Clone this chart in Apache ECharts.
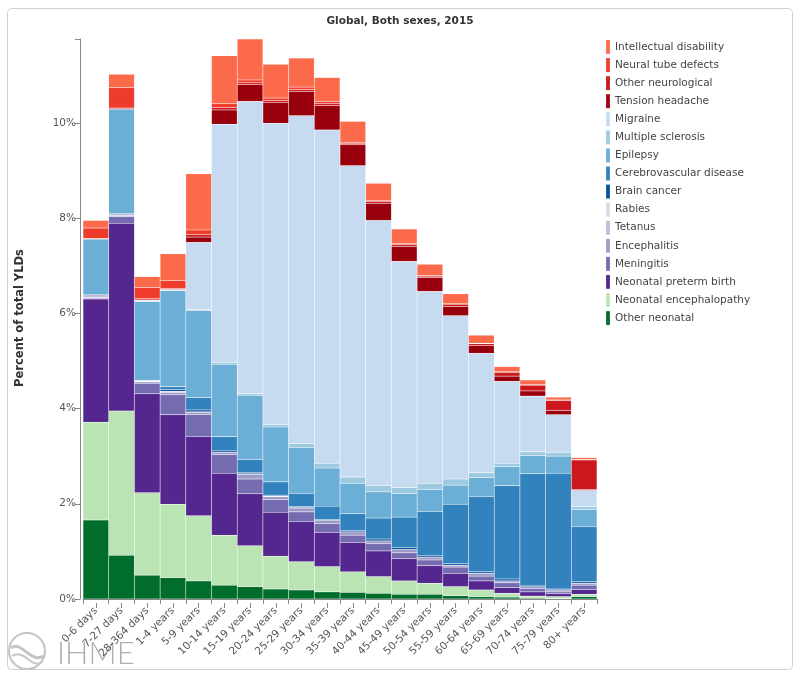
<!DOCTYPE html>
<html>
<head>
<meta charset="utf-8">
<script src="https://cdn.jsdelivr.net/npm/echarts@6/dist/echarts.min.js"></script>
<style>html,body{margin:0;padding:0;background:#fff}#c{width:800px;height:679px}</style>
</head>
<body>
<div id="c"></div>
<script>
const categories = ['0-6 days','7-27 days','28-364 days','1-4 years','5-9 years','10-14 years','15-19 years','20-24 years','25-29 years','30-34 years','35-39 years','40-44 years','45-49 years','50-54 years','55-59 years','60-64 years','65-69 years','70-74 years','75-79 years','80+ years'];
const yTicks = [0, 2, 4, 6, 8, 10];

// Percent of total YLDs, stacked bottom to top
const otherNeonatal = [1.66,0.92,0.50,0.45,0.38,0.29,0.26,0.21,0.19,0.15,0.14,0.12,0.10,0.10,0.07,0.05,0.04,0.02,0.01,0.05];
const neonatalEnceph = [2.05,3.03,1.73,1.54,1.37,1.05,0.86,0.69,0.59,0.53,0.43,0.35,0.28,0.23,0.19,0.14,0.08,0.04,0.04,0.05];
const pretermBirth = [2.59,3.94,2.08,1.88,1.66,1.30,1.09,0.92,0.84,0.72,0.62,0.54,0.47,0.37,0.28,0.19,0.12,0.09,0.06,0.10];
const meningitis = [0.02,0.14,0.22,0.42,0.46,0.39,0.31,0.27,0.21,0.18,0.15,0.15,0.12,0.12,0.13,0.10,0.10,0.07,0.04,0.09];
const encephalitis = [0.01,0.02,0.03,0.05,0.05,0.05,0.10,0.06,0.08,0.07,0.07,0.06,0.07,0.06,0.04,0.06,0.04,0.04,0.04,0.04];
const tetanus = [0.06,0.04,0.01,0.01,0.01,0.00,0.01,0.01,0.01,0,0,0,0,0,0,0,0,0,0,0];
const rabies = [0,0,0,0.01,0,0,0,0,0,0,0,0,0,0,0,0,0,0,0,0];
const brainCancer = [0,0,0.01,0.04,0.04,0.03,0.03,0.02,0.02,0.02,0.03,0.04,0.04,0.03,0.03,0.03,0.04,0.03,0.02,0.03];
const cerebrovascular = [0,0,0.01,0.06,0.26,0.30,0.27,0.28,0.28,0.28,0.35,0.44,0.64,0.92,1.25,1.58,1.96,2.34,2.43,1.16];
const epilepsy = [1.17,2.20,1.66,2.02,1.83,1.52,1.35,1.15,0.96,0.80,0.64,0.55,0.49,0.47,0.40,0.40,0.40,0.38,0.36,0.36];
const multipleSclerosis = [0,0,0.01,0.01,0.02,0.04,0.03,0.05,0.08,0.10,0.13,0.13,0.13,0.13,0.13,0.10,0.07,0.08,0.08,0.06];
const migraine = [0,0,0.02,0.01,1.41,5.00,6.14,6.33,6.89,7.00,6.54,5.57,4.75,4.03,3.43,2.51,1.72,1.17,0.79,0.34];
const tensionHeadache = [0,0,0,0,0.11,0.30,0.35,0.44,0.51,0.51,0.44,0.36,0.31,0.29,0.19,0.16,0.11,0.11,0.09,0.02];
const otherNeurological = [0.01,0.02,0.03,0.02,0.05,0.05,0.04,0.04,0.04,0.04,0.03,0.04,0.04,0.03,0.05,0.04,0.08,0.12,0.21,0.62];
const neuralTube = [0.22,0.43,0.23,0.17,0.10,0.08,0.06,0.05,0.05,0.05,0.02,0.02,0.02,0.01,0.01,0.01,0.01,0.01,0.01,0.01];
const intellectual = [0.16,0.28,0.23,0.56,1.18,1.01,0.86,0.71,0.61,0.50,0.44,0.36,0.31,0.24,0.21,0.17,0.11,0.10,0.06,0.04];

const seriesNames = ['Other neonatal','Neonatal encephalopathy','Neonatal preterm birth','Meningitis','Encephalitis','Tetanus','Rabies','Brain cancer','Cerebrovascular disease','Epilepsy','Multiple sclerosis','Migraine','Tension headache','Other neurological','Neural tube defects','Intellectual disability'];
const seriesData = [otherNeonatal,neonatalEnceph,pretermBirth,meningitis,encephalitis,tetanus,rabies,brainCancer,cerebrovascular,epilepsy,multipleSclerosis,migraine,tensionHeadache,otherNeurological,neuralTube,intellectual];
const seriesColors = ['#006d2c','#bae4b3','#54278f','#756bb1','#9e9ac8','#bcbddc','#dadaeb','#08519c','#3182bd','#6baed6','#9ecae1','#c6dbef','#99000d','#cb181d','#ef3b2c','#fb6a4a'];

const totals = categories.map((_, i) => seriesData.reduce((s, arr) => s + arr[i], 0));
const yMax = Math.max(...totals);

const FONT = 'DejaVu Sans';
const chart = echarts.init(document.getElementById('c'), null, {renderer: 'canvas'});

const series = seriesNames.map((n, k) => ({
  name: n,
  type: 'bar',
  stack: 'all',
  barWidth: '100%',
  barCategoryGap: 0,
  data: seriesData[k],
  itemStyle: {color: seriesColors[k], borderColor: 'rgba(255,255,255,0.12)', borderWidth: 0.5},
  emphasis: {disabled: true}
}));

chart.setOption({
  animation: false,
  title: {
    text: 'Global, Both sexes, 2015',
    left: 'center', top: 11,
    textStyle: {fontFamily: FONT, fontSize: 10.5, fontWeight: 'bold', color: '#333'}
  },
  legend: {
    orient: 'vertical',
    left: 605, top: 39,
    padding: 0,
    data: seriesNames.slice().reverse(),
    icon: 'rect',
    itemWidth: 4, itemHeight: 14, itemGap: 2.07,
    selectedMode: false,
    textStyle: {fontFamily: FONT, fontSize: 10.5, color: '#444', lineHeight: 14}
  },
  grid: {left: 83, right: 203, top: 39, bottom: 80, containLabel: false},
  xAxis: [{
    type: 'category',
    data: categories,
    offset: 4,
    axisLine: {lineStyle: {color: '#888'}},
    axisTick: {show: true, interval: 0, length: 5, lineStyle: {color: '#888'}},
    axisLabel: {interval: 0, rotate: 45, fontFamily: FONT, fontSize: 10.5, color: '#555', margin: 6}
  }, {
    type: 'category',
    data: categories,
    position: 'bottom',
    offset: 4,
    axisLine: {show: false},
    axisTick: {show: true, alignWithLabel: true, interval: 0, length: 5, lineStyle: {color: '#888'}},
    axisLabel: {show: false}
  }],
  yAxis: {
    type: 'value',
    min: 0, max: yMax, interval: 2,
    offset: 3,
    splitLine: {show: false},
    axisLine: {show: true, lineStyle: {color: '#888'}},
    axisTick: {show: true, length: 5, lineStyle: {color: '#888'}},
    axisLabel: {
      fontFamily: FONT, fontSize: 10.5, color: '#555', margin: 4,
      formatter: v => (yTicks.indexOf(v) >= 0 ? v + '%' : '')
    }
  },
  graphic: [
    {type: 'rect', shape: {x: 7.5, y: 8.5, width: 785, height: 661, r: 4}, style: {fill: 'none', stroke: '#d0d0d0', lineWidth: 1}, silent: true, z: -10},
    {type: 'line', shape: {x1: 75, y1: 39.5, x2: 80, y2: 39.5}, style: {stroke: '#888', lineWidth: 1}, silent: true},
    {type: 'text', x: 20, y: 318, rotation: Math.PI / 2, style: {text: 'Percent of total YLDs', fontFamily: FONT, fontSize: 11.5, fontWeight: 'bold', fill: '#333', align: 'center', verticalAlign: 'middle'}},
    {type: 'circle', shape: {cx: 27, cy: 651, r: 18}, style: {fill: 'none', stroke: '#c4c4c4', lineWidth: 2}, silent: true},
    {type: 'bezierCurve', shape: {x1: 11, y1: 648, cpx1: 22, cpy1: 640, cpx2: 30, cpy2: 664, x2: 44, y2: 656}, style: {fill: 'none', stroke: '#c4c4c4', lineWidth: 3}, silent: true},
    {type: 'bezierCurve', shape: {x1: 12, y1: 656, cpx1: 24, cpy1: 648, cpx2: 32, cpy2: 670, x2: 42, y2: 662}, style: {fill: 'none', stroke: '#c4c4c4', lineWidth: 2}, silent: true},
    {type: 'text', x: 57, y: 654, style: {text: 'IHME', fontFamily: 'Lato', fontSize: 31, fontWeight: 300, fill: '#b0b0b0', verticalAlign: 'middle'}, silent: true}
  ],
  series: series
});
</script>
</body>
</html>
